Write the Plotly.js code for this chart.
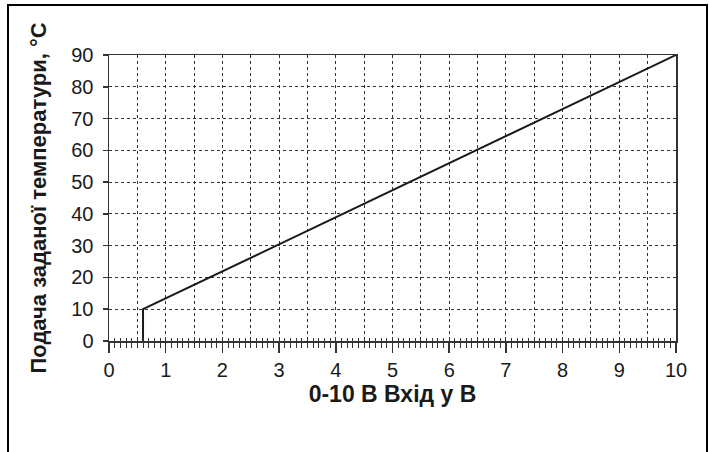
<!DOCTYPE html>
<html>
<head>
<meta charset="utf-8">
<script src="https://cdn.plot.ly/plotly-3.0.1.min.js"></script>
<style>html,body{margin:0;padding:0;background:#fff;}#chart{width:709px;height:452px;}</style>
</head>
<body>
<div id="chart"></div>
<script>
// Data
const inputVoltage = [0.6, 0.6, 10];   // 0-10 V input, V
const flowSetpoint = [0, 10, 90];      // setpoint flow temperature, °C
const xTitle = "0-10 В Вхід у В";
const yTitle = "Подача заданої температури, °C";

const W = 709, H = 452;
const m = {l: 109, r: 33, t: 55, b: 111};
const pw = W - m.l - m.r, ph = H - m.t - m.b;
const px = v => (v - m.l) / pw;
const py = v => (H - m.b - v) / ph;

const font = "Liberation Sans, Arial, Helvetica, sans-serif";
const gridCol = "#333";

const trace = {
  x: inputVoltage, y: flowSetpoint, type: "scatter", mode: "lines",
  line: {color: "#1a1a1a", width: 2}, xaxis: "x", yaxis: "y", hoverinfo: "skip"
};

const layout = {
  width: W, height: H, margin: m,
  paper_bgcolor: "#fff", plot_bgcolor: "#fff",
  showlegend: false,
  font: {family: font, color: "#1a1a1a", size: 20},
  xaxis: {
    range: [0, 10], dtick: 1, tick0: 0,
    showgrid: false, zeroline: false,
    showline: true, linecolor: "#333", linewidth: 1.5, mirror: true,
    ticks: "outside", ticklen: 10, tickcolor: "#333", tickwidth: 1.5,
    minor: {dtick: 0.1, ticks: "outside", ticklen: 5, tickcolor: "#333", tickwidth: 1, showgrid: false},
    tickfont: {size: 20, family: font},
    title: {text: "<b>" + xTitle + "</b>", font: {size: 23, family: font}, standoff: 6},
    fixedrange: true
  },
  xaxis2: {
    overlaying: "x", side: "bottom", anchor: "y", matches: "x",
    range: [0, 10], dtick: 0.5, tick0: 0,
    showgrid: true, gridcolor: gridCol, gridwidth: 1, griddash: "3px,3px",
    zeroline: false, showline: false, showticklabels: false,
    ticks: "inside", ticklen: 3, tickcolor: "#333", tickwidth: 1,
    minor: {dtick: 0.1, ticks: "inside", ticklen: 3, tickcolor: "#333", tickwidth: 1, showgrid: false},
    fixedrange: true
  },
  yaxis: {
    range: [0, 90], dtick: 10, tick0: 0,
    showgrid: true, gridcolor: gridCol, gridwidth: 1, griddash: "3px,3px",
    zeroline: false,
    showline: true, linecolor: "#333", linewidth: 1.5, mirror: true,
    ticks: "outside", ticklen: 5, tickcolor: "#333", tickwidth: 1.5,
    ticklabelstandoff: 5,
    tickfont: {size: 20, family: font},
    title: {text: "<b>" + yTitle + "</b>", font: {size: 22, family: font}, standoff: 18},
    fixedrange: true
  },
  shapes: [{
    type: "rect", xref: "paper", yref: "paper",
    x0: px(8), x1: px(707), y0: py(470), y1: py(5),
    line: {color: "#000", width: 2}, fillcolor: "rgba(0,0,0,0)", layer: "above"
  }]
};

const dummy = {x: [0], y: [0], xaxis: "x2", yaxis: "y", type: "scatter", mode: "markers",
  marker: {opacity: 0}, hoverinfo: "skip"};

Plotly.newPlot("chart", [dummy, trace], layout, {staticPlot: true, displayModeBar: false});
</script>
</body>
</html>
